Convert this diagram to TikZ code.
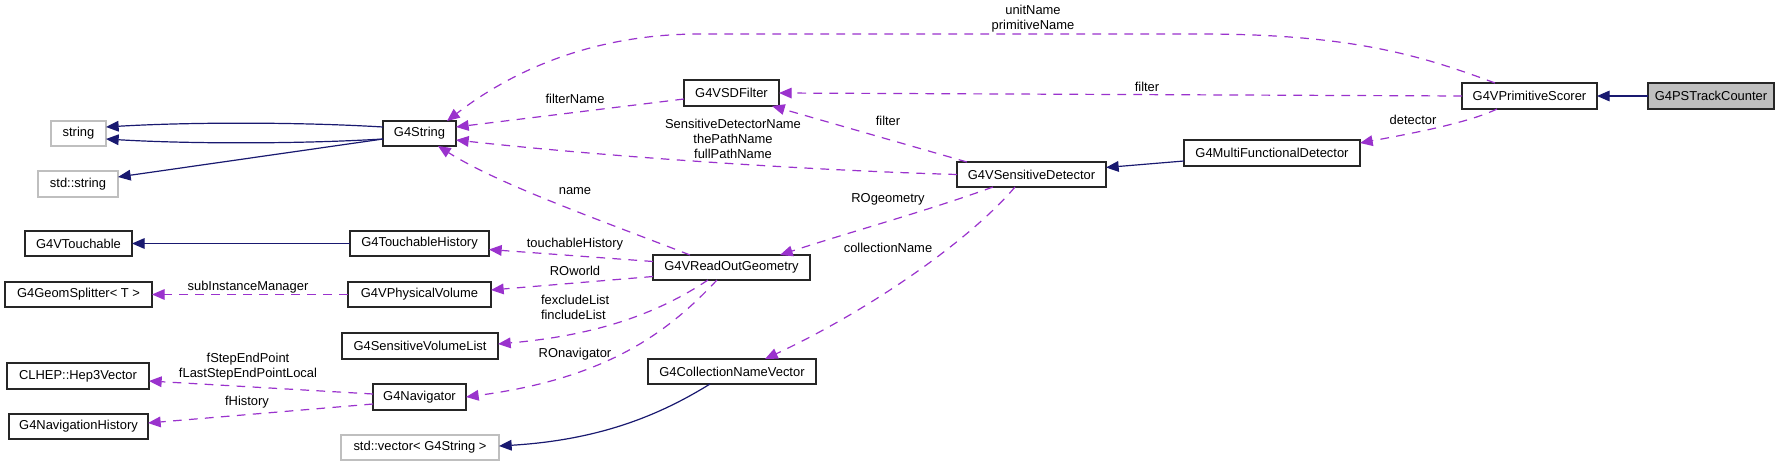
\documentclass[tikz,border=0pt]{standalone}
\usepackage{fontspec}
\setmainfont{Liberation Sans}
\usetikzlibrary{arrows.meta,calc}
\definecolor{navy}{HTML}{191970}
\definecolor{depc}{HTML}{9A32CD}
\definecolor{gline}{HTML}{BFBFBF}
\definecolor{gfill}{HTML}{BFBFBF}
\newcommand{\cls}[7][box]{\node[#1, minimum width={(#5-#3)*0.75pt}, minimum height={(#6-#4)*0.75pt}] (#2) at ({(#3+#5)/2},{(#4+#6)/2}) {#7};}
\tikzset{
  box/.style={draw=black!85, line width=0.9pt, fill=white, inner sep=0pt, outer sep=0pt, rectangle},
  gbox/.style={box, draw=gline},
  curbox/.style={box, fill=gfill},
  inh/.style={draw=navy, line width=0.9pt, -{Triangle[length=9.5pt,width=8pt]}},
  use/.style={draw=depc, line width=0.9pt, dash pattern=on 6.5pt off 5.5pt, -{Triangle[length=9.5pt,width=8pt]}},
  lbl/.style={inner sep=0pt, outer sep=0pt, align=center}
}
\begin{document}
\begin{tikzpicture}[x=0.75pt,y=-0.75pt,font=\fontsize{9.7}{11.25}\selectfont]
\useasboundingbox[fill=white] (0,0) rectangle (1789,467);
% nodes
\cls[curbox]{tc}{1648}{83}{1774}{109}{G4PSTrackCounter}
\cls{ps}{1462}{83}{1597}{109}{G4VPrimitiveScorer}
\cls{mfd}{1184}{140}{1360}{166}{G4MultiFunctionalDetector}
\cls{sd}{957}{162}{1106}{187}{G4VSensitiveDetector}
\cls{filt}{684}{80}{779}{106}{G4VSDFilter}
\cls{str}{383}{121}{456}{146}{G4String}
\cls{ro}{653}{255}{810}{280}{G4VReadOutGeometry}
\cls{cnv}{648}{359}{816}{384}{G4CollectionNameVector}
\cls[gbox]{string}{51}{121}{106}{146}{string}
\cls[gbox]{stdstr}{38}{171}{118}{197}{std::string}
\cls{vt}{25}{231}{132}{256}{G4VTouchable}
\cls{th}{350}{231}{489}{256}{G4TouchableHistory}
\cls{gs}{5}{282}{152}{307}{G4GeomSplitter< T >}
\cls{pv}{348}{282}{491}{307}{G4VPhysicalVolume}
\cls{svl}{342}{333}{498}{359}{G4SensitiveVolumeList}
\cls{hep}{7}{363}{149}{389}{CLHEP::Hep3Vector}
\cls{nav}{373}{384}{466}{410}{G4Navigator}
\cls{nh}{9}{414}{148}{439}{G4NavigationHistory}
\cls[gbox]{vec}{341}{435}{499}{460}{std::vector< G4String >}
% edges
\draw[inh] (tc.west) -- (ps.east);
\draw[use] ($(ps.north west)+(33,0)$) .. controls (1420,55) and (1350,34) .. (1200,34) -- (700,34) .. controls (580,34) and (500,80) .. ($(str.north east)+(-9,0)$);
\draw[use] (ps.west) -- (filt.east);
\draw[use] ($(ps.south west)+(35,0)$) .. controls (1470,122) and (1420,132) .. ($(mfd.east)+(0,-10)$);
\draw[inh] ($(mfd.west)+(0,8)$) -- ($(sd.east)+(0,-7)$);
\draw[use] ($(sd.north west)+(10,0)$) -- ($(filt.south east)+(-7,0)$);
\draw[use] (sd.west) .. controls (800,170) and (600,156) .. ($(str.east)+(0,6.5)$);
\draw[use] ($(filt.west)+(0,6)$) -- ($(str.east)+(0,-6.5)$);
\draw[use] ($(ro.north west)+(37,0)$) .. controls (600,220) and (500,185) .. ($(str.south east)+(-18,0)$);
\draw[use] ($(sd.south west)+(36,0)$) .. controls (930,210) and (850,232) .. ($(ro.north east)+(-30,0)$);
\draw[use] ($(sd.south west)+(58,0)$) .. controls (970,240) and (870,310) .. ($(cnv.north west)+(117,0)$);
\draw[use] ($(ro.west)+(0,-6)$) -- ($(th.east)+(0,6)$);
\draw[use] ($(ro.west)+(0,9)$) -- ($(pv.east)+(0,-4.5)$);
\draw[use] ($(ro.south west)+(55,0)$) .. controls (660,312) and (600,335) .. ($(svl.east)+(0,-2)$);
\draw[use] ($(ro.south west)+(64,0)$) .. controls (670,330) and (610,378) .. (nav.east);
\draw[inh] ($(cnv.south west)+(62,0)$) .. controls (660,415) and (600,440) .. ($(vec.east)+(0,-1.5)$);
\draw[inh] (th.west) -- (vt.east);
\draw[use] (pv.west) -- (gs.east);
\draw[use] ($(nav.west)+(0,-3)$) -- ($(hep.east)+(0,5)$);
\draw[use] ($(nav.west)+(0,7)$) -- ($(nh.east)+(0,-3.5)$);
\draw[inh] ($(str.west)+(0,-6.5)$) .. controls (300,122) and (190,122) .. ($(string.east)+(0,-6.5)$);
\draw[inh] ($(str.west)+(0,5.5)$) .. controls (300,144) and (190,144) .. ($(string.east)+(0,5.5)$);
\draw[inh] ($(str.west)+(0,5.5)$) -- ($(stdstr.east)+(0,-7)$);
% labels
\node[lbl] (l1) at (1033,19) {unitName\\primitiveName};
\node[lbl] (l2) at (1147,87) {filter};
\node[lbl] (l3) at (1413,120) {detector};
\node[lbl] (l4) at (888,121) {filter};
\node[lbl] (l5) at (733,139) {SensitiveDetectorName\\thePathName\\fullPathName};
\node[lbl] (l6) at (575,99) {filterName};
\node[lbl] (l7) at (575,191) {name};
\node[lbl] (l8) at (888,199) {ROgeometry};
\node[lbl] (l9) at (888,248) {collectionName};
\node[lbl] (l10) at (575,244) {touchableHistory};
\node[lbl] (l11) at (575,271) {ROworld};
\node[lbl, align=left, anchor=west] (l12) at (541,307) {fexcludeList\\fincludeList};
\node[lbl] (l13) at (575,354) {ROnavigator};
\node[lbl] (l14) at (248,287) {subInstanceManager};
\node[lbl] (l15) at (248,367) {fStepEndPoint\\fLastStepEndPointLocal};
\node[lbl] (l16) at (247,402) {fHistory};
\end{tikzpicture}
\end{document}
